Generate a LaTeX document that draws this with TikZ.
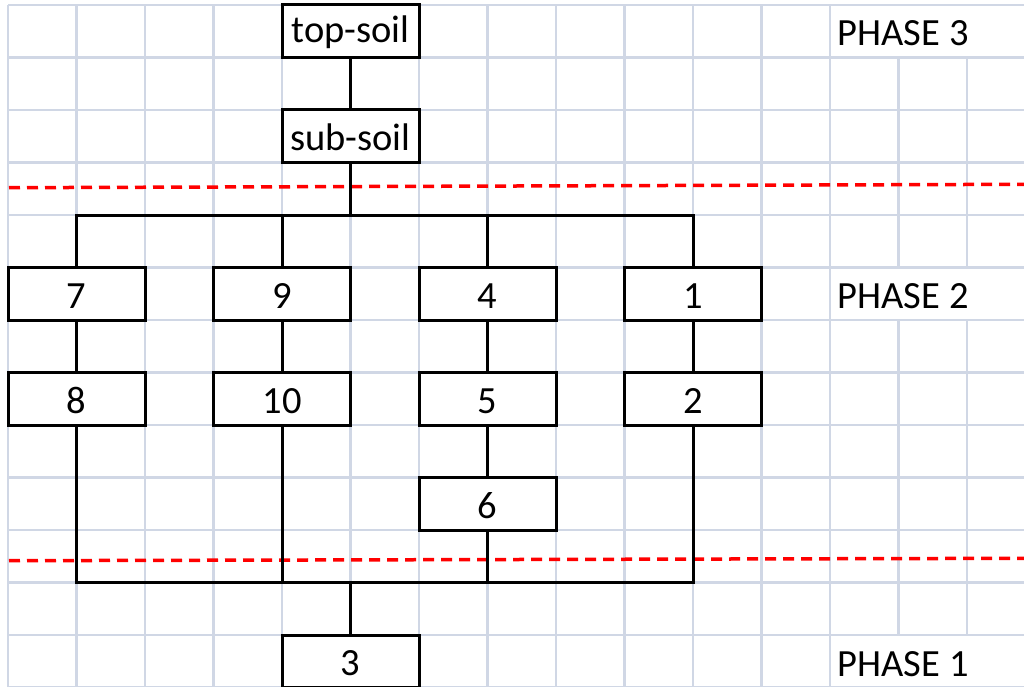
\documentclass[tikz,border=0pt]{standalone}
\usepackage{fontspec}
\setmainfont{Carlito}
\definecolor{gridc}{HTML}{D0D7E5}
\begin{document}
\begin{tikzpicture}[x=1pt,y=-1pt,
  gridline/.style={gridc,line width=2.5pt},
  box/.style={draw=black,line width=3pt,fill=white,minimum width=137pt,minimum height=52.5pt,
    inner sep=0pt,text height=29pt,text depth=0pt,font=\fontsize{38.5}{40}\selectfont},
  conn/.style={black,line width=3pt},
  phase/.style={anchor=base west,inner sep=0pt,font=\fontsize{38.5}{40}\selectfont},
  cut/.style={red,line width=3.5pt,dash pattern=on 11pt off 7pt}]
\useasboundingbox[fill=white] (0,0) rectangle (1024,687);
% grid
\foreach \i in {0,...,12} \draw[gridline] ({8+68.5*\i},5) -- ({8+68.5*\i},687);
\foreach \i in {13,14} {
  \draw[gridline] ({8+68.5*\i},57.5) -- ({8+68.5*\i},267.5);
  \draw[gridline] ({8+68.5*\i},320) -- ({8+68.5*\i},635);
}
\foreach \j in {0,...,13} \draw[gridline] (8,{5+52.5*\j}) -- (1024,{5+52.5*\j});
% phase boundaries
\draw[cut] (9,187.7) -- (1024,184.3);
\draw[cut] (9,560.7) -- (1024,558.3);
% boxes
\node[box,text height=22.5pt] (top) at (350.5,31.25) {top-soil};
\node[box] (sub) at (350.5,136.25) {sub-soil};
\node[box] (b7) at (76.5,293.75) {7};
\node[box] (b9) at (282,293.75) {9};
\node[box] (b4) at (487.5,293.75) {4};
\node[box] (b1) at (693,293.75) {1};
\node[box] (b8) at (76.5,398.75) {8};
\node[box] (b10) at (282,398.75) {10};
\node[box] (b5) at (487.5,398.75) {5};
\node[box] (b2) at (693,398.75) {2};
\node[box] (b6) at (487.5,503.75) {6};
\node[box] (b3) at (350.5,661.25) {3};
\coordinate (jt) at (350.5,215);
\coordinate (jb) at (350.5,582.5);
% connectors
\draw[conn] (top.south) -- (sub.north);
\draw[conn] (sub.south) -- (jt);
\draw[conn] (b7.north) |- (b1.north |- jt) -- (b1.north);
\draw[conn] (b9.north) -- (b9.north |- jt);
\draw[conn] (b4.north) -- (b4.north |- jt);
\draw[conn] (b7.south) -- (b8.north);
\draw[conn] (b9.south) -- (b10.north);
\draw[conn] (b4.south) -- (b5.north);
\draw[conn] (b1.south) -- (b2.north);
\draw[conn] (b5.south) -- (b6.north);
\draw[conn] (b8.south) |- (b2.south |- jb) -- (b2.south);
\draw[conn] (b10.south) -- (b10.south |- jb);
\draw[conn] (b6.south) -- (b6.south |- jb);
\draw[conn] (jb) -- (b3.north);
% phase labels
\node[phase] (p3) at (837.5,46) {PHASE 3};
\node[phase] (p2) at (837.5,308.3) {PHASE 2};
\node[phase] (p1) at (837.5,676.7) {PHASE 1};
\end{tikzpicture}
\end{document}
